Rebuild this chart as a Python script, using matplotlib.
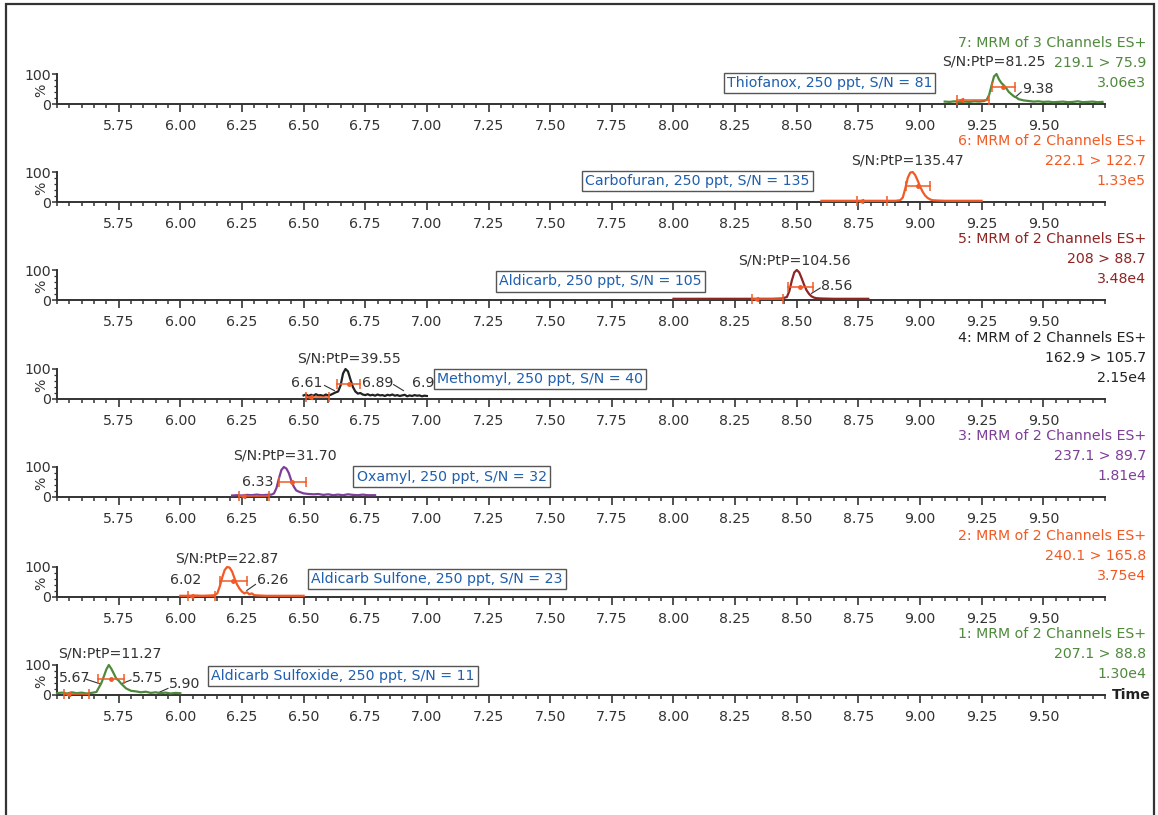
import matplotlib
matplotlib.use('Agg')
import matplotlib.pyplot as plt
from matplotlib.ticker import FixedLocator, MultipleLocator
from matplotlib.patches import Rectangle

plt.rcParams['font.family'] = ['DejaVu Sans']
plt.rcParams['font.size'] = 10.2

# --- chromatogram traces (retention time in min, intensity in %) ---
thiofanox_t = [9.10, 9.12, 9.14, 9.16, 9.18, 9.20, 9.22, 9.24, 9.26, 9.27, 9.28, 9.29, 9.30, 9.31,
               9.32, 9.33, 9.34, 9.35, 9.36, 9.37, 9.38, 9.39, 9.40, 9.42, 9.44, 9.46, 9.48, 9.50,
               9.52, 9.54, 9.56, 9.58, 9.60, 9.62, 9.64, 9.66, 9.68, 9.70, 9.72, 9.74]
thiofanox_y = [8, 7, 9, 6, 8, 7, 9, 8, 10, 14, 30, 62, 92, 100,
               82, 70, 62, 52, 40, 33, 26, 22, 16, 12, 10, 8, 9, 7,
               8, 6, 7, 8, 6, 7, 9, 6, 7, 8, 6, 7]

carbofuran_t = [8.60, 8.65, 8.70, 8.75, 8.80, 8.85, 8.90, 8.92, 8.93, 8.94, 8.95, 8.96, 8.97,
                8.98, 8.99, 9.00, 9.01, 9.02, 9.03, 9.04, 9.05, 9.07, 9.10, 9.15, 9.20, 9.25]
carbofuran_y = [4, 4, 4, 4, 4, 4, 4, 6, 15, 45, 80, 98, 100,
                90, 72, 52, 35, 22, 14, 9, 6, 5, 4, 4, 4, 4]

aldicarb_t = [8.00, 8.10, 8.20, 8.30, 8.40, 8.44, 8.46, 8.47, 8.48, 8.49, 8.50, 8.51, 8.52,
              8.53, 8.54, 8.55, 8.56, 8.57, 8.58, 8.60, 8.65, 8.70, 8.79]
aldicarb_y = [4, 4, 4, 4, 4, 5, 10, 30, 65, 92, 100, 92, 72,
              50, 32, 20, 12, 8, 6, 5, 4, 4, 4]

methomyl_t = [6.50, 6.51, 6.52, 6.53, 6.54, 6.55, 6.56, 6.57, 6.58, 6.59, 6.60, 6.61, 6.62,
              6.63, 6.64, 6.65, 6.66, 6.67, 6.68, 6.69, 6.70, 6.71, 6.72, 6.73, 6.74, 6.75,
              6.76, 6.77, 6.78, 6.79, 6.80, 6.81, 6.82, 6.83, 6.84, 6.85, 6.86, 6.87, 6.88,
              6.89, 6.90, 6.91, 6.92, 6.93, 6.94, 6.95, 6.96, 6.97, 6.98, 6.99, 7.00]
methomyl_y = [12, 15, 10, 14, 11, 16, 12, 13, 10, 15, 12, 14, 18,
              22, 25, 45, 85, 100, 92, 65, 40, 25, 18, 20, 15, 13,
              16, 12, 14, 11, 15, 12, 13, 10, 14, 12, 15, 11, 13,
              10, 12, 14, 9, 12, 10, 13, 11, 12, 9, 11, 10]

oxamyl_t = [6.21, 6.23, 6.25, 6.27, 6.29, 6.31, 6.33, 6.35, 6.37, 6.38, 6.39, 6.40, 6.41, 6.42,
            6.43, 6.44, 6.45, 6.46, 6.47, 6.48, 6.49, 6.50, 6.52, 6.54, 6.56, 6.58, 6.60, 6.62,
            6.64, 6.66, 6.68, 6.70, 6.72, 6.74, 6.76, 6.79]
oxamyl_y = [5, 6, 5, 7, 6, 8, 6, 7, 8, 12, 30, 62, 90, 100,
            95, 80, 55, 35, 22, 18, 15, 12, 10, 9, 10, 7, 9, 6,
            8, 6, 9, 7, 6, 8, 6, 6]

sulfone_t = [6.00, 6.03, 6.06, 6.09, 6.12, 6.14, 6.15, 6.16, 6.17, 6.18, 6.19, 6.20, 6.21, 6.22,
             6.23, 6.24, 6.25, 6.26, 6.27, 6.28, 6.29, 6.30, 6.32, 6.35, 6.40, 6.45, 6.50]
sulfone_y = [4, 4, 5, 4, 5, 6, 12, 35, 65, 90, 100, 98, 85, 62,
             42, 28, 18, 12, 16, 9, 12, 6, 5, 4, 4, 4, 4]

sulfoxide_t = [5.50, 5.52, 5.54, 5.56, 5.58, 5.60, 5.62, 5.64, 5.66, 5.68, 5.69, 5.70, 5.71,
               5.72, 5.73, 5.74, 5.75, 5.76, 5.77, 5.78, 5.79, 5.80, 5.82, 5.84, 5.86, 5.88,
               5.90, 5.92, 5.94, 5.96, 5.98, 6.00]
sulfoxide_y = [6, 8, 5, 9, 6, 8, 5, 7, 10, 40, 62, 85, 100,
               88, 72, 55, 48, 38, 30, 22, 18, 14, 12, 9, 11, 7,
               9, 6, 8, 5, 7, 6]

# --- panel texts, top panel first ---
channel_titles = ['7: MRM of 3 Channels ES+', '6: MRM of 2 Channels ES+', '5: MRM of 2 Channels ES+',
                  '4: MRM of 2 Channels ES+', '3: MRM of 2 Channels ES+', '2: MRM of 2 Channels ES+',
                  '1: MRM of 2 Channels ES+']
transitions = ['219.1 > 75.9', '222.1 > 122.7', '208 > 88.7', '162.9 > 105.7',
               '237.1 > 89.7', '240.1 > 165.8', '207.1 > 88.8']
intensities = ['3.06e3', '1.33e5', '3.48e4', '2.15e4', '1.81e4', '3.75e4', '1.30e4']
compound_names = ['Thiofanox, 250 ppt, S/N = 81', 'Carbofuran, 250 ppt, S/N = 135',
                  'Aldicarb, 250 ppt, S/N = 105', 'Methomyl, 250 ppt, S/N = 40',
                  'Oxamyl, 250 ppt, S/N = 32', 'Aldicarb Sulfone, 250 ppt, S/N = 23',
                  'Aldicarb Sulfoxide, 250 ppt, S/N = 11']
snr_labels = ['S/N:PtP=81.25', 'S/N:PtP=135.47', 'S/N:PtP=104.56', 'S/N:PtP=39.55',
              'S/N:PtP=31.70', 'S/N:PtP=22.87', 'S/N:PtP=11.27']
rt_labels = [['9.38'], [], ['8.56'], ['6.61', '6.89', '6.9'], ['6.33'], ['6.02', '6.26'],
             ['5.67', '5.75', '5.90']]

# noise window and peak width used for S/N (min)
noise_ranges = [(9.15, 9.28), (8.745, 8.865), (8.32, 8.445), (6.51, 6.605),
                (6.24, 6.36), (6.03, 6.14), (5.53, 5.63)]
width_ranges = [(9.29, 9.385), (8.945, 9.04), (8.465, 8.565), (6.635, 6.73),
                (6.40, 6.51), (6.16, 6.27), (5.665, 5.77)]

time_ticks = [5.75, 6.00, 6.25, 6.50, 6.75, 7.00, 7.25, 7.50, 7.75, 8.00, 8.25,
              8.50, 8.75, 9.00, 9.25, 9.50]

traces = [(thiofanox_t, thiofanox_y), (carbofuran_t, carbofuran_y), (aldicarb_t, aldicarb_y),
          (methomyl_t, methomyl_y), (oxamyl_t, oxamyl_y), (sulfone_t, sulfone_y),
          (sulfoxide_t, sulfoxide_y)]

colors = ['#4f8a3c', '#f15a24', '#8e2424', '#222222', '#7e3f98', '#f15a24', '#4f8a3c']
MARK = '#f15a24'
INK = '#333333'
BLUE = '#1f5fae'

# label placement per panel: S/N label (t, %), name box centre (t, %),
# retention labels (t, %, ha) and leader lines ((t0, y0), (t1, y1))
layout = [
    dict(snr=(9.30, 142), box=(8.632, 70), noise_y=13, width_y=57,
         rt=[(9.414, 50, 'left')], leaders=[((9.385, 22), (9.41, 40))]),
    dict(snr=(8.95, 138), box=(8.097, 70), noise_y=5, width_y=53,
         rt=[], leaders=[]),
    dict(snr=(8.49, 132), box=(7.703, 62), noise_y=5, width_y=45,
         rt=[(8.60, 48, 'left')], leaders=[((8.56, 22), (8.595, 40))]),
    dict(snr=(6.685, 134), box=(7.459, 67), noise_y=6, width_y=50,
         rt=[(6.578, 52, 'right'), (6.737, 52, 'left'), (6.94, 52, 'left')],
         leaders=[((6.585, 45), (6.625, 28)), ((6.865, 48), (6.905, 28))]),
    dict(snr=(6.426, 138), box=(7.10, 68), noise_y=5, width_y=50,
         rt=[(6.314, 50, 'center')], leaders=[]),
    dict(snr=(6.19, 130), box=(7.04, 60), noise_y=5, width_y=55,
         rt=[(6.02, 55, 'center'), (6.31, 58, 'left')], leaders=[((6.27, 22), (6.305, 42))]),
    dict(snr=(5.716, 138), box=(6.66, 63), noise_y=5, width_y=53,
         rt=[(5.635, 58, 'right'), (5.804, 58, 'left'), (5.952, 36, 'left')],
         leaders=[((5.62, 52), (5.672, 38)), ((5.762, 38), (5.80, 50)), ((5.912, 8), (5.95, 22))]),
]

W, H = 1158, 815
AX_LEFT, AX_RIGHT = 57, 1105
BASELINES = [104, 202, 300, 399, 497, 597, 695]
PANEL_H = 30


def set_axisopts(ax):
    ax.set_xlim(5.50, 9.75)
    ax.set_ylim(0, 100)
    for s in ['top', 'right']:
        ax.spines[s].set_visible(False)
    for s in ['left', 'bottom']:
        ax.spines[s].set_color(INK)
        ax.spines[s].set_linewidth(1.4)
    ax.xaxis.set_major_locator(FixedLocator(time_ticks))
    ax.set_xticklabels(['%.2f' % t for t in time_ticks])
    ax.xaxis.set_minor_locator(MultipleLocator(0.05))
    ax.yaxis.set_major_locator(FixedLocator([0, 100]))
    ax.yaxis.set_minor_locator(MultipleLocator(20))
    ax.tick_params(axis='x', which='major', length=5.5, width=1.2, color=INK,
                   labelcolor=INK, pad=5.5)
    ax.tick_params(axis='x', which='minor', length=3.2, width=1.1, color=INK)
    ax.tick_params(axis='y', which='major', length=3.5, width=1.1, color=INK,
                   labelcolor=INK, pad=1)
    ax.tick_params(axis='y', which='minor', length=2, width=0.9, color=INK)
    ax.patch.set_visible(False)


def draw_bar(ax, t0, t1, y, center_dot):
    ax.plot([t0, t1], [y, y], color=MARK, lw=1.1, clip_on=False, zorder=4)
    ax.plot([t0, t1], [y, y], ls='none', marker='|', ms=7, mew=1.1, color=MARK,
            clip_on=False, zorder=4)
    if center_dot:
        ax.plot([(t0 + t1) / 2], [y], ls='none', marker='o', ms=2.5, color=MARK,
                clip_on=False, zorder=4)
    else:
        ax.plot([t0 + 0.015], [y], ls='none', marker='<', ms=3, color=MARK,
                clip_on=False, zorder=4)


def main():
    fig = plt.figure(figsize=(W / 100, H / 100), dpi=100)

    # outer frame (open at the bottom, as in the screenshot)
    fig.add_artist(Rectangle((6 / W, -0.05), (1154 - 6) / W, (H - 4) / H + 0.05,
                             transform=fig.transFigure, fill=False, ec=INK, lw=1.6))

    for i, (t, y) in enumerate(traces):
        base = BASELINES[i]
        ax = fig.add_axes([AX_LEFT / W, (H - base) / H, (AX_RIGHT - AX_LEFT) / W, PANEL_H / H])
        set_axisopts(ax)
        lay = layout[i]

        ax.plot(t, y, color=colors[i], lw=1.6, clip_on=False, zorder=3)

        # noise window and peak width markers
        draw_bar(ax, noise_ranges[i][0], noise_ranges[i][1], lay['noise_y'], False)
        draw_bar(ax, width_ranges[i][0], width_ranges[i][1], lay['width_y'], True)

        ax.text(lay['snr'][0], lay['snr'][1], snr_labels[i], ha='center', va='center',
                color=INK, clip_on=False)
        for lab, (rx, ry, ha) in zip(rt_labels[i], lay['rt']):
            ax.text(rx, ry, lab, ha=ha, va='center', color=INK, clip_on=False, zorder=2)
        for (a, b) in lay['leaders']:
            ax.plot([a[0], b[0]], [a[1], b[1]], color=INK, lw=0.8, clip_on=False)

        ax.text(lay['box'][0], lay['box'][1], compound_names[i], ha='center', va='center',
                color=BLUE, clip_on=False, zorder=5,
                bbox=dict(boxstyle='square,pad=0.22', fc='white', ec='#555555', lw=1.0))

        # channel description on the right
        for k, txt in enumerate([channel_titles[i], transitions[i], intensities[i]]):
            ax.annotate(txt, xy=(1, 0), xycoords='axes fraction', xytext=(41, 61 - 20 * k),
                        textcoords='offset pixels', ha='right', va='center', color=colors[i])

        ax.annotate('%', xy=(0, 0), xycoords='axes fraction', xytext=(-16, 14),
                    textcoords='offset pixels', ha='center', va='center', rotation=90, color=INK)

        if i == len(traces) - 1:
            ax.annotate('Time', xy=(1, 0), xycoords='axes fraction', xytext=(7, 0),
                        textcoords='offset pixels', ha='left', va='center',
                        fontweight='bold', color='#222222')

    fig.savefig('out.png', dpi=100)


if __name__ == '__main__':
    main()
